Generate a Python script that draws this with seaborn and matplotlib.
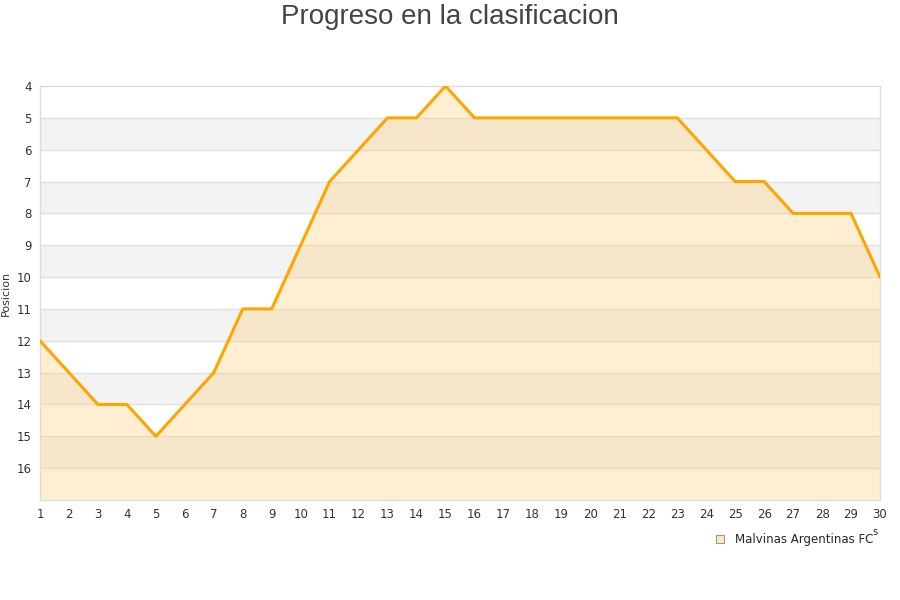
import matplotlib
matplotlib.use("Agg")
import matplotlib.pyplot as plt
import seaborn as sns
import pandas as pd
from matplotlib.lines import Line2D

# %% Data
jornadas = list(range(1, 31))
posicion = [12, 13, 14, 14, 15, 14, 13, 11, 11, 9, 7, 6, 5, 5, 4,
            5, 5, 5, 5, 5, 5, 5, 5, 6, 7, 7, 8, 8, 8, 10]
equipo = "Malvinas Argentinas FC"

df = pd.DataFrame({"Jornada": jornadas, "Posicion": posicion})

# %% Style
sns.set_theme(style="white")
plt.rcParams["font.family"] = ["DejaVu Sans"]

fig = plt.figure(figsize=(9, 6), dpi=100)
ax = fig.add_axes([40 / 900, 100 / 600, 840 / 900, 414 / 600])

# alternating bands
for y0 in range(5, 17, 2):
    ax.axhspan(y0, y0 + 1, color="#f3f3f3", zorder=0, lw=0)
for y in range(5, 17):
    ax.axhline(y, color="#e0e0e0", lw=1, zorder=1)

ax.fill_between(df["Jornada"], df["Posicion"], 17, color="#ffd27f", alpha=0.35, lw=0, zorder=2)
sns.lineplot(data=df, x="Jornada", y="Posicion", color="#ffa500", lw=2.2, ax=ax, zorder=3)

ax.set_xlim(1, 30)
ax.set_ylim(17, 4)
ax.set_xticks(jornadas)
ax.set_yticks(range(4, 17))
ax.tick_params(axis="both", labelsize=8.5, colors="#333333", length=0, pad=6)
ax.set_xlabel("")
ax.set_ylabel("Posicion", fontsize=8, color="#333333", labelpad=4)
for s in ax.spines.values():
    s.set_color("#dddddd")
    s.set_linewidth(1)

fig.suptitle("Progreso en la clasificacion", x=0.5, y=0.993, fontsize=20,
             color="#444444", family="Liberation Sans")

# legend
handle = Line2D([], [], marker="s", linestyle="", markersize=6,
                markerfacecolor="#ffe8c0", markeredgecolor="#999999", markeredgewidth=0.8)
fig.legend([handle], [equipo], loc="center left", bbox_to_anchor=(703 / 900, 1 - 540 / 600),
           frameon=False, fontsize=8.5, handletextpad=0.3, borderaxespad=0)
fig.text(875 / 900, 1 - 532 / 600, "s", fontsize=7, color="#333333", ha="center", va="center")

plt.savefig("out.png", dpi=100)
